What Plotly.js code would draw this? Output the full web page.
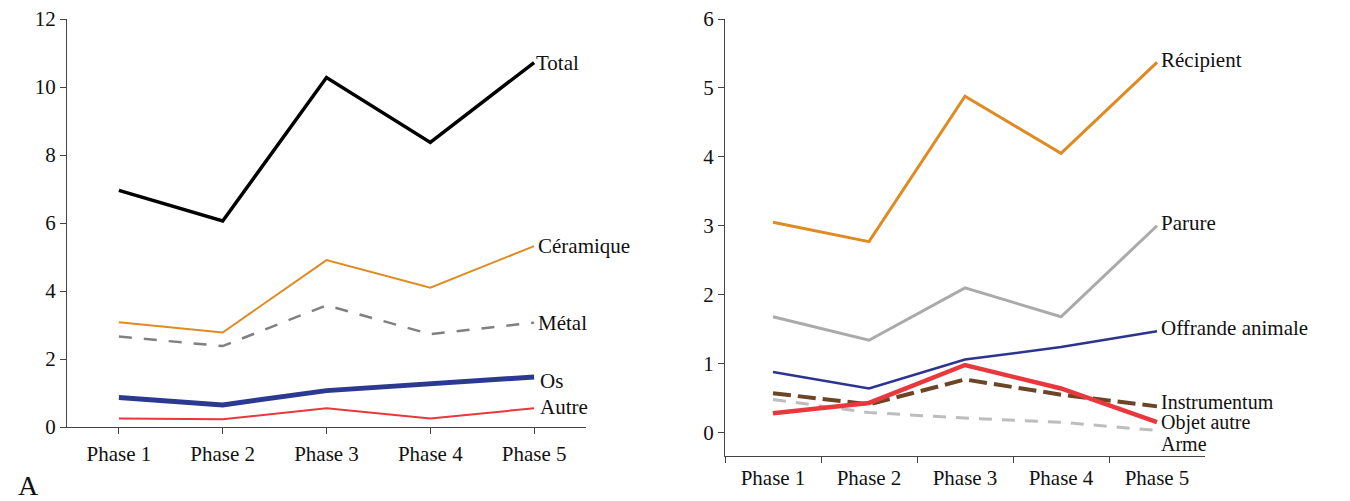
<!DOCTYPE html>
<html><head><meta charset="utf-8">
<script src="https://cdn.plot.ly/plotly-3.0.1.min.js"></script>
<style>html,body{margin:0;padding:0;background:#fff}#chart{width:1350px;height:501px}</style>
</head><body><div id="chart"></div>
<script>
const phases = ["Phase 1","Phase 2","Phase 3","Phase 4","Phase 5"];
// Left panel (A)
const total     = [6.96, 6.06, 10.28, 8.37, 10.72];
const ceramique = [3.08, 2.78, 4.91, 4.10, 5.32];
const metal     = [2.66, 2.38, 3.58, 2.73, 3.07];
const os        = [0.87, 0.65, 1.07, 1.26, 1.47];
const autre     = [0.25, 0.23, 0.55, 0.25, 0.55];
// Right panel
const recipient    = [3.05, 2.77, 4.88, 4.05, 5.37];
const parure       = [1.68, 1.34, 2.10, 1.68, 3.00];
const offrande     = [0.88, 0.64, 1.06, 1.24, 1.47];
const instrumentum = [0.57, 0.41, 0.77, 0.55, 0.38];
const objetAutre   = [0.28, 0.43, 0.98, 0.64, 0.15];
const arme         = [0.48, 0.29, 0.21, 0.15, 0.03];
const leftTicks = [0,2,4,6,8,10,12];
const rightTicks = [0,1,2,3,4,5,6];

const FONT = "'Liberation Serif', 'Times New Roman', serif";
function tr(y, name, color, width, dash, xa, ya){
  return {x: phases, y: y, name: name, type:'scatter', mode:'lines',
    line:{color:color, width:width, dash:dash||'solid'}, xaxis:xa, yaxis:ya, hoverinfo:'skip'};
}
const data = [
  tr(autre, 'Autre', '#E8383D', 2, null, 'x', 'y'),
  tr(os, 'Os', '#2B3990', 5, null, 'x', 'y'),
  tr(metal, 'Métal', '#808080', 2.5, '13px,12px', 'x', 'y'),
  tr(ceramique, 'Céramique', '#E08A22', 2, null, 'x', 'y'),
  tr(total, 'Total', '#000000', 3.5, null, 'x', 'y'),
  tr(arme, 'Arme', '#BDBDBD', 3, '13px,10px', 'x2', 'y2'),
  tr(instrumentum, 'Instrumentum', '#6B4526', 4, '18px,7px', 'x2', 'y2'),
  tr(offrande, 'Offrande animale', '#2B3590', 2.5, null, 'x2', 'y2'),
  tr(objetAutre, 'Objet autre', '#E8383D', 4.5, null, 'x2', 'y2'),
  tr(parure, 'Parure', '#AAAAAA', 3, null, 'x2', 'y2'),
  tr(recipient, 'Récipient', '#E08A22', 3, null, 'x2', 'y2')
];

function lab(text, arr, xa, ya, xs, ys, fs){
  return {text:text, x: phases[4], y: arr[arr.length-1], xref:xa, yref:ya,
    xanchor:'left', yanchor:'middle', xshift:xs, yshift:ys||0, showarrow:false, borderpad:0,
    font:{family:FONT, size:fs||21, color:'#111'}};
}
const annotations = [
  lab('Total', total, 'x', 'y', 1, 0),
  lab('Céramique', ceramique, 'x', 'y', 3, 0),
  lab('Métal', metal, 'x', 'y', 3, 0),
  lab('Os', os, 'x', 'y', 5, -4),
  lab('Autre', autre, 'x', 'y', 5, 1),
  lab('Récipient', recipient, 'x2', 'y2', 3, 2),
  lab('Parure', parure, 'x2', 'y2', 3, 3),
  lab('Offrande animale', offrande, 'x2', 'y2', 3, 3),
  lab('Instrumentum', instrumentum, 'x2', 'y2', 3, 4, 20),
  lab('Objet autre', objetAutre, 'x2', 'y2', 3, 0, 20),
  lab('Arme', arme, 'x2', 'y2', 3, -13, 20),
  {text:'A', xref:'paper', yref:'paper', x:28/1350, y:(501-485)/501, xanchor:'center', yanchor:'middle',
   showarrow:false, font:{family:FONT, size:28, color:'#111'}}
];

const axFont = {family:FONT, size:21, color:'#111'};
const layout = {
  width:1350, height:501, margin:{l:0,r:0,t:0,b:0}, showlegend:false,
  paper_bgcolor:'#fff', plot_bgcolor:'#fff',
  xaxis:{domain:[67/1350, 586/1350], type:'category', range:[-0.5,4.5], showline:true, linecolor:'#444', linewidth:1,
    ticks:'outside', ticklen:6, tickcolor:'#444', showgrid:false, zeroline:false, tickfont:axFont, ticklabelstandoff:2, anchor:'y', automargin:false},
  yaxis:{domain:[(501-427)/501, (501-19)/501], range:[0,12], tickvals:leftTicks, showline:true, linecolor:'#444', linewidth:1,
    ticks:'outside', ticklen:6, tickcolor:'#444', showgrid:false, zeroline:false, tickfont:axFont, anchor:'x', automargin:false},
  xaxis2:{domain:[725/1350, 1205/1350], type:'category', range:[-0.5,4.5], tickson:'boundaries', showline:true, linecolor:'#444', linewidth:1,
    ticks:'outside', ticklen:6, tickcolor:'#444', showgrid:false, zeroline:false, tickfont:axFont, ticklabelstandoff:3, anchor:'y2', automargin:false},
  yaxis2:{domain:[(501-456)/501, (501-19)/501], range:[-0.34,6], tickvals:rightTicks, showline:true, linecolor:'#444', linewidth:1,
    ticks:'outside', ticklen:6, tickcolor:'#444', showgrid:false, zeroline:false, tickfont:axFont, anchor:'x2', automargin:false},
  annotations: annotations
};
Plotly.newPlot('chart', data, layout, {staticPlot:true, displayModeBar:false});
</script></body></html>
